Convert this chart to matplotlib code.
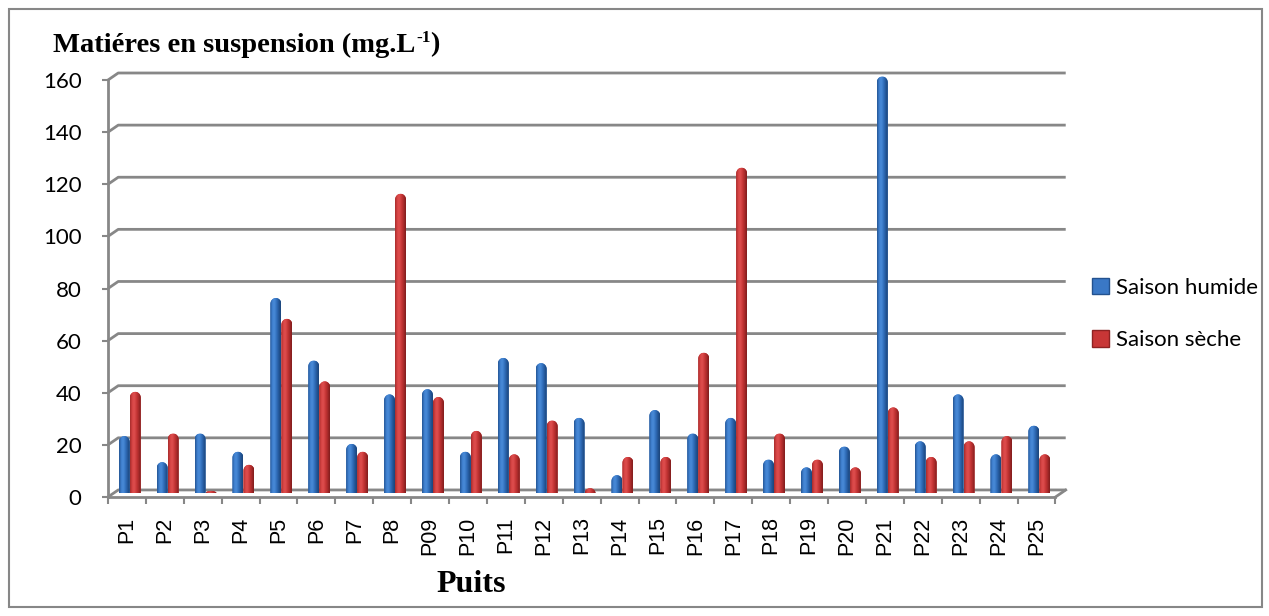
import numpy as np
import matplotlib.pyplot as plt
from matplotlib.colors import LinearSegmentedColormap
from matplotlib.patches import Patch, Rectangle
from matplotlib.path import Path

puits = ['P1', 'P2', 'P3', 'P4', 'P5', 'P6', 'P7', 'P8', 'P09', 'P10',
         'P11', 'P12', 'P13', 'P14', 'P15', 'P16', 'P17', 'P18', 'P19', 'P20',
         'P21', 'P22', 'P23', 'P24', 'P25']
saison_humide = [22, 12, 23, 16, 75, 51, 19, 38, 40, 16, 52, 50, 29, 7, 32,
                 23, 29, 13, 10, 18, 160, 20, 38, 15, 26]
saison_seche = [39, 23, 1, 11, 67, 43, 16, 115, 37, 24, 15, 28, 2, 14, 14,
                54, 125, 23, 13, 10, 33, 14, 20, 22, 15]
yticks = [0, 20, 40, 60, 80, 100, 120, 140, 160]

GRID = '#878787'
# depth shift of the back wall (x in categories, y in data units)
dx, dy = 0.27, 2.7
cap = 2.3
bar_w = 0.29

blue_cmap = LinearSegmentedColormap.from_list(
    'cyl_blue', ['#23528f', '#3f80d0', '#4a8bd8', '#3270bd', '#24579a', '#1b4478'])
red_cmap = LinearSegmentedColormap.from_list(
    'cyl_red', ['#a22a2a', '#d84444', '#de4f4f', '#c83636', '#a82a2a', '#7e1c1c'])


def domed_path(x0, w, y0, h):
    c = min(cap, h)
    t = np.linspace(np.pi, 0, 30)
    xs = x0 + w / 2 + w / 2 * np.cos(t)
    ys = y0 + h - c + c * np.sin(t)
    verts = [(x0, y0)] + list(zip(xs, ys)) + [(x0 + w, y0), (x0, y0)]
    return Path(verts, closed=True)


def shade_bars(ax, bars, cmap):
    grad = np.linspace(0, 1, 64).reshape(1, -1)
    for rect in bars:
        x0, w = rect.get_x(), rect.get_width()
        y0, h = rect.get_y(), rect.get_height()
        p = domed_path(x0, w, y0, h)
        rect.set_clip_path(p, ax.transData)
        im = ax.imshow(grad, extent=(x0, x0 + w, y0, y0 + h), cmap=cmap,
                       aspect='auto', interpolation='bicubic', zorder=3)
        im.set_clip_path(p, ax.transData)


fig = plt.figure(figsize=(12.69, 6.16), dpi=100)
ax = fig.add_axes([0.0851, 0.1932, 0.7571, 0.6938])

x = np.arange(len(puits))
b1 = ax.bar(x - 0.07, saison_humide, bar_w, bottom=dy / 2, color='#3a78c6', zorder=3)
b2 = ax.bar(x + 0.22, saison_seche, bar_w, bottom=dy / 2, color='#c83636', zorder=3)
shade_bars(ax, b1, blue_cmap)
shade_bars(ax, b2, red_cmap)

# back wall gridlines with their slanted start
for v in yticks:
    ax.plot([-0.5, -0.5 + dx, 24.5 + dx], [v, v + dy, v + dy],
            color=GRID, lw=2.0, zorder=1, clip_on=False, solid_capstyle='butt')
ax.plot([24.5, 24.5 + dx], [0, dy], color=GRID, lw=2.0, zorder=1, clip_on=False)

ax.set_xlim(-0.5, 24.85)
ax.set_ylim(0, 164)

for s in ['top', 'right']:
    ax.spines[s].set_visible(False)
ax.spines['left'].set_bounds(0, 160)
ax.spines['bottom'].set_bounds(-0.5, 24.5)
for s in ['left', 'bottom']:
    ax.spines[s].set_color(GRID)
    ax.spines[s].set_linewidth(2.0)

ax.set_yticks(yticks)
ax.set_yticklabels([str(v) for v in yticks], fontsize=16, fontfamily='Lato')
ax.tick_params(axis='y', length=4, width=1.5, color=GRID, pad=15)

ax.set_xticks(x)
ax.set_xticklabels(puits, rotation=90, fontsize=15.5, fontfamily='Liberation Sans')
ax.set_xticks(np.arange(-0.5, 25, 1), minor=True)
ax.tick_params(axis='x', which='major', length=0, pad=14)
ax.tick_params(axis='x', which='minor', length=5, width=1.5, color=GRID)

handles = [Patch(facecolor='#3a78c6', edgecolor='#23528f', label='Saison humide'),
           Patch(facecolor='#c83636', edgecolor='#8e2222', label='Saison sèche')]
fig.legend(handles=handles, loc='center left', bbox_to_anchor=(0.845, 0.49),
           frameon=False, prop={'family': 'Lato', 'size': 16},
           handlelength=0.75, handleheight=0.75, handletextpad=0.3, labelspacing=1.45)

# title with a small "-1" exponent
title = fig.text(53 / 1269, 1 - 45 / 616, 'Matiéres en suspension (mg.L',
                 fontfamily='Liberation Serif', fontweight='bold', fontsize=20.5,
                 va='center')
renderer = fig.canvas.get_renderer()
bb = title.get_window_extent(renderer)
sup = fig.text(bb.x1 / 1269 + 0.0005, 1 - 38 / 616, '-1', fontfamily='Liberation Serif',
               fontweight='bold', fontsize=12.5, va='center')
bb2 = sup.get_window_extent(renderer)
fig.text(bb2.x1 / 1269, 1 - 45 / 616, ')', fontfamily='Liberation Serif',
         fontweight='bold', fontsize=20.5, va='center')

fig.text(471 / 1269, 1 - 584 / 616, 'Puits', fontfamily='Liberation Serif',
         fontweight='bold', fontsize=23, ha='center', va='center')

fig.add_artist(Rectangle((9 / 1269, 9 / 616), 1253 / 1269, 598 / 616,
                         transform=fig.transFigure, fill=False,
                         edgecolor=GRID, lw=1.5))

fig.savefig('out.png', dpi=100)
